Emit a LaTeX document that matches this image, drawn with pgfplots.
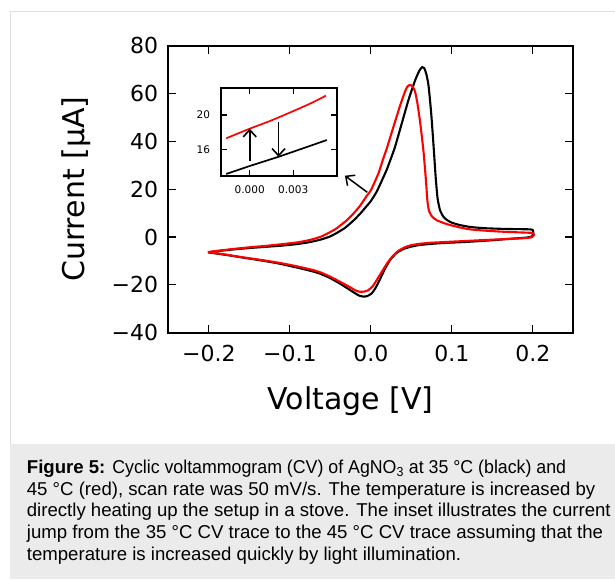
\documentclass[border=0pt]{standalone}
\usepackage{fontspec}
\setmainfont{DejaVu Sans}
\newfontfamily\capfont{Liberation Sans}
\newfontfamily\capfontnarrow{Liberation Sans}[FakeStretch=0.955]
\usepackage{pgfplots}
\usepackage{pgfplotstable}
\pgfplotsset{compat=1.18}
\usetikzlibrary{arrows.meta}

\definecolor{capgray}{RGB}{235,235,235}
\definecolor{panelgray}{RGB}{222,222,222}

% CV at 35 C (black): forward scan, then reverse scan
\pgfplotstableread{
V I
-0.201 -6.4
-0.190 -5.9
-0.170 -5.2
-0.150 -4.6
-0.130 -4.1
-0.110 -3.6
-0.090 -2.9
-0.075 -2.1
-0.0612 -1.0
-0.0505 0.2
-0.042 1.7
-0.032 3.8
-0.0217 6.8
-0.013 9.8
-0.005 13.0
0.000 15.0
0.0073 19.0
0.0135 23.5
0.0197 28.2
0.025 33.0
0.030 37.8
0.0383 47.6
0.0465 57.3
0.0547 65.5
0.060 69.6
0.0635 71.1
0.066 70.6
0.0685 68.2
0.0712 63.5
0.0745 52.0
0.0775 38.0
0.0802 24.5
0.0825 16.0
0.0855 11.2
0.090 8.3
0.095 6.9
0.100 6.0
0.110 5.0
0.123 4.2
0.140 3.7
0.164 3.4
0.197 3.2
0.2003 2.7
0.2005 1.4
0.199 0.3
0.193 -0.2
0.170 -0.8
0.1435 -1.5
0.120 -2.0
0.102 -2.3
0.085 -2.6
0.0733 -2.9
0.061 -3.3
0.050 -4.0
0.0403 -5.0
0.032 -6.6
0.0238 -9.6
0.0175 -13.3
0.0114 -17.6
0.0060 -21.2
0.0010 -23.6
-0.0045 -24.7
-0.0093 -24.9
-0.015 -24.4
-0.0217 -23.0
-0.030 -21.2
-0.038 -19.5
-0.050 -17.2
-0.0612 -15.5
-0.0712 -14.4
-0.0932 -12.6
-0.1146 -11.0
-0.135 -9.8
-0.1558 -8.7
-0.180 -7.4
-0.201 -6.4
}\cvlow

% CV at 45 C (red)
\pgfplotstableread{
V I
-0.201 -6.3
-0.190 -5.8
-0.170 -5.0
-0.150 -4.3
-0.130 -3.7
-0.110 -3.0
-0.090 -2.2
-0.075 -1.2
-0.0612 0.2
-0.0505 2.0
-0.042 3.7
-0.030 6.9
-0.0217 9.7
-0.0134 13.0
-0.005 17.2
0.000 19.5
0.0093 26.5
0.0156 33.0
0.0197 37.0
0.0279 46.0
0.0362 55.0
0.0424 61.0
0.0455 63.0
0.0485 63.6
0.0515 63.0
0.0545 61.0
0.0575 56.0
0.0609 48.0
0.065 36.0
0.068 24.0
0.0698 15.5
0.0718 11.0
0.0755 8.6
0.0816 7.0
0.094 5.4
0.110 4.0
0.1228 3.2
0.140 2.7
0.164 2.2
0.195 1.8
0.2005 1.7
0.2015 0.9
0.199 0.0
0.193 -0.4
0.170 -0.8
0.1435 -1.2
0.120 -1.6
0.102 -1.9
0.085 -2.2
0.0733 -2.4
0.061 -2.8
0.050 -3.4
0.042 -4.3
0.034 -5.8
0.027 -8.0
0.0205 -10.8
0.0140 -14.3
0.0080 -17.6
0.0025 -20.5
-0.003 -22.2
-0.008 -22.8
-0.0135 -22.9
-0.019 -22.3
-0.027 -20.7
-0.038 -18.7
-0.050 -16.6
-0.0612 -14.9
-0.0712 -13.8
-0.093 -12.1
-0.1146 -10.7
-0.135 -9.6
-0.1558 -8.6
-0.180 -7.3
-0.201 -6.3
}\cvhigh

% close-up of the forward scans around 0 V
\pgfplotstableread{
V I
-0.00162 13.12
0.0000 14.05
0.0020 15.13
0.0040 16.30
0.00532 17.08
}\zoomlow
\pgfplotstableread{
V I
-0.00162 17.28
0.0000 18.40
0.0014 19.30
0.0028 20.30
0.0042 21.35
0.00526 22.25
}\zoomhigh

\begin{document}
\begin{tikzpicture}[x=1pt,y=1pt]
\path[use as bounding box] (0,0) rectangle (615,579);
\fill[white] (0,0) rectangle (615,579);
\fill[capgray] (10,0) rectangle (615,135);
\draw[panelgray, line width=1pt] (10,135) -- (10,567) -- (615,567);

\begin{axis}[
  at={(168.3pt,246.3pt)}, anchor=south west,
  scale only axis, width=405pt, height=287pt,
  xmin=-0.25, xmax=0.25, ymin=-40, ymax=80,
  xtick={-0.2,-0.1,0,0.1,0.2},
  xticklabels={−0.2,−0.1,0.0,0.1,0.2},
  ytick={-40,-20,0,20,40,60,80},
  yticklabels={−40,−20,0,20,40,60,80},
  axis line style={line width=2.2pt},
  tick style={line width=1.2pt, black},
  major tick length=8pt,
  ticklabel style={font=\fontsize{22}{26}\selectfont},
  xticklabel style={anchor=base, yshift=-28.7pt},
  yticklabel style={anchor=east, inner sep=0pt, xshift=-10pt},
  every axis x label/.style={at={(axis description cs:0.45,-0.2659)}, anchor=base},
  every axis y label/.style={at={(axis description cs:-0.2057,0.5)}, rotate=90, anchor=base},
  label style={font=\fontsize{30}{36}\selectfont},
  xlabel={Voltage [V]},
  ylabel={Current [µA]},
]
\addplot[black, line width=2.1pt, line join=round, smooth, tension=0.35] table[x=V,y=I] {\cvlow};
\addplot[red, line width=2.1pt, line join=round, smooth, tension=0.35] table[x=V,y=I] {\cvhigh};
\draw[black, line width=1.5pt, -{Straight Barb[length=7pt,width=13pt]}] (axis cs:-0.0043,18.7) -- (axis cs:-0.032,25.65);
\end{axis}

\begin{axis}[
  at={(220.7pt,403.3pt)}, anchor=south west,
  scale only axis, width=116pt, height=87.4pt,
  xmin=-0.002, xmax=0.006, ymin=12.92, ymax=23.11,
  scaled x ticks=false,
  axis background/.style={fill=white},
  xtick={0,0.003}, xticklabels={0.000,0.003},
  ytick={16,20}, yticklabels={16,20},
  axis line style={line width=2.2pt},
  tick style={line width=1.1pt, black},
  major tick length=6pt,
  ticklabel style={font=\fontsize{10.5}{12}\selectfont},
  xticklabel style={anchor=base, yshift=-18.3pt},
  yticklabel style={anchor=east, inner sep=0pt, xshift=-10.5pt},
]
\addplot[black, line width=1.7pt] table[x=V,y=I] {\zoomlow};
\addplot[red, line width=1.7pt, smooth] table[x=V,y=I] {\zoomhigh};
\draw[black, line width=1.6pt, -{Straight Barb[length=7pt,width=13pt]}] (axis cs:0,14.67) -- (axis cs:0,18.4);
\draw[black, line width=1.6pt, -{Straight Barb[length=7pt,width=13pt]}] (axis cs:0.00199,19.15) -- (axis cs:0.00199,15.13);
\end{axis}

% caption
\begin{scope}[every node/.style={anchor=base west, inner sep=0pt, font=\capfont\fontsize{18.6}{21.7}\selectfont}]
\node at (26.7,105.7) {\textbf{Figure 5:} {\capfontnarrow Cyclic voltammogram (CV) of AgNO\textsubscript{3} at 35 °C (black) and}};
\node at (26.7,84.0) {45 °C (red), scan rate was 50 mV/s. The temperature is increased by};
\node at (26.7,62.3) {directly heating up the setup in a stove. The inset illustrates the current};
\node at (26.7,40.6) {jump from the 35 °C CV trace to the 45 °C CV trace assuming that the};
\node at (26.7,18.9) {temperature is increased quickly by light illumination.};
\end{scope}
\end{tikzpicture}
\end{document}
